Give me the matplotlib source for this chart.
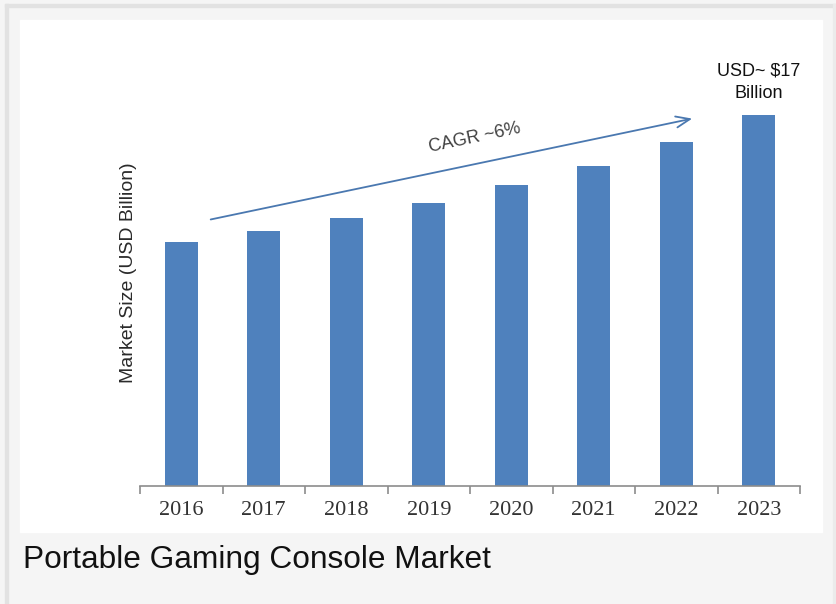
import matplotlib.pyplot as plt
from matplotlib.patches import Rectangle

# Portable gaming console market size, USD billion
years = ["2016", "2017", "2018", "2019", "2020", "2021", "2022", "2023"]
market_size = [11.2, 11.7, 12.3, 13.0, 13.8, 14.7, 15.8, 17.0]

cagr_label = "CAGR ~6%"
peak_label = "USD~ $17\nBillion"
caption = "Portable Gaming Console Market"

W, H = 836, 604
fig = plt.figure(figsize=(W / 100, H / 100), dpi=100, facecolor="#f5f5f5")


def px(x, y, w, h):
    """Pixel box (top-left origin) -> figure fraction rect."""
    return (x / W, 1 - (y + h) / H, w / W, h / H)


def box(x, y, w, h, color):
    fx, fy, fw, fh = px(x, y, w, h)
    fig.patches.append(Rectangle((fx, fy), fw, fh, transform=fig.transFigure,
                                 color=color, zorder=-5))


# outer frame lines and white panel
box(5, 4, 3, 600, "#e2e2e2")
box(5, 4, 831, 3, "#e2e2e2")
box(833, 4, 3, 600, "#ebebeb")
box(20, 20, 802, 512, "white")

ax = fig.add_axes(px(140, 60, 660, 426), zorder=2)
ax.set_facecolor("none")

x = range(len(years))
ax.bar(x, market_size, width=0.4, color="#4f81bd", zorder=2)

ax.set_xlim(-0.5, len(years) - 0.5)
ax.set_ylim(0, 426 / 21.8)

for side in ["top", "right", "left"]:
    ax.spines[side].set_visible(False)
ax.spines["bottom"].set_color("#8c8c8c")
ax.spines["bottom"].set_linewidth(1.2)

ax.set_yticks([])
ax.set_xticks([i - 0.5 for i in range(len(years) + 1)], minor=False)
ax.set_xticklabels([])
ax.tick_params(axis="x", which="major", length=6, color="#8c8c8c", width=1.2)
ax.set_xticks(list(x), minor=True)
ax.set_xticklabels(years, minor=True, family="Liberation Serif", fontsize=16,
                   color="#333333")
ax.tick_params(axis="x", which="minor", length=0, pad=11)

ax.set_ylabel("Market Size (USD Billion)", family="Liberation Sans",
              fontsize=14, color="#2a2a2a", labelpad=2)

# growth arrow and labels
ax.annotate("", xy=(6.227, 16.88), xytext=(0.324, 12.2),
            arrowprops=dict(arrowstyle="->,head_length=1.0,head_width=0.4",
                            color="#4a78b0", lw=1.3))
ax.text(3.56, 15.95, cagr_label, rotation=12, ha="center", va="center",
        family="Liberation Sans", fontsize=13, color="#404040")
ax.text(7, 17.6, peak_label, ha="center", va="bottom", family="Liberation Sans",
        fontsize=13, color="#111111", linespacing=1.45)

fig.text(23 / W, 1 - 568 / H, caption, family="Liberation Sans", fontsize=22.8,
         color="#111111", ha="left", va="baseline")

fig.savefig("out.png", dpi=100, facecolor=fig.get_facecolor())
